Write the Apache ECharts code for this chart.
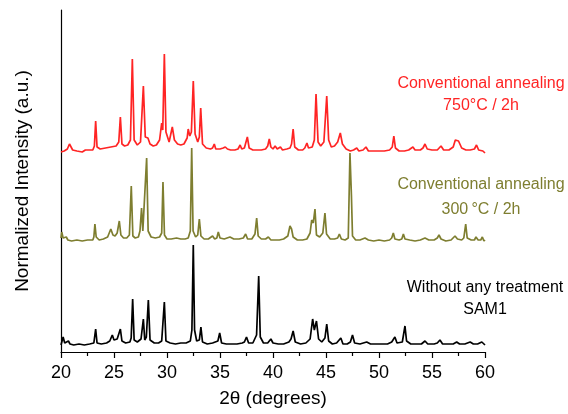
<!DOCTYPE html>
<html>
<head>
<meta charset="utf-8">
<script src="https://cdn.jsdelivr.net/npm/echarts@6/dist/echarts.min.js"></script>
<style>
  html, body { margin: 0; padding: 0; background: #fff; }
  #chart { width: 568px; height: 414px; }
</style>
</head>
<body>
<div id="chart"></div>
<script>
// XRD patterns, 2θ in degrees vs. intensity above each trace's own baseline
const xTicks = [20, 25, 30, 35, 40, 45, 50, 55, 60];

const seriesNames = ['SAM1', '300 °C / 2h', '750 °C / 2h'];
const seriesColors = ['#000000', '#7e7e30', '#ff2424'];
// vertical stacking offsets of the three traces
const offsets = [0.07, 1.11, 2.00];

const untreated = [
  [20.0,0.00],[20.2,0.08],[20.35,0.02],[20.5,0.01],[20.7,0.04],[20.85,0.01],[21.2,0.00],[21.7,0.01],[22.2,0.00],[22.7,0.01],
  [23.1,0.02],[23.27,0.16],[23.4,0.02],[23.8,0.01],[24.3,0.02],[24.6,0.04],[24.84,0.10],[25.0,0.05],[25.3,0.06],[25.6,0.16],
  [25.75,0.04],[26.1,0.02],[26.5,0.03],[26.62,0.07],[26.76,0.46],[26.9,0.05],[27.2,0.03],[27.55,0.06],[27.77,0.26],[27.9,0.05],
  [28.05,0.08],[28.24,0.45],[28.4,0.05],[28.8,0.02],[29.2,0.02],[29.5,0.04],[29.75,0.43],[29.9,0.04],[30.3,0.02],[30.8,0.01],
  [31.3,0.02],[31.8,0.02],[32.2,0.04],[32.35,0.15],[32.48,1.00],[32.6,0.15],[32.8,0.04],[33.05,0.05],[33.2,0.18],[33.35,0.03],
  [33.8,0.01],[34.3,0.02],[34.8,0.04],[34.97,0.12],[35.15,0.02],[35.6,0.01],[36.1,0.01],[36.6,0.01],[37.1,0.02],[37.3,0.03],
  [37.5,0.08],[37.7,0.02],[38.1,0.02],[38.45,0.10],[38.65,0.69],[38.8,0.08],[39.1,0.02],[39.5,0.02],[39.8,0.06],[40.0,0.02],
  [40.5,0.01],[41.0,0.01],[41.5,0.03],[41.7,0.06],[41.9,0.14],[42.1,0.03],[42.6,0.01],[43.1,0.02],[43.5,0.06],[43.74,0.26],
  [43.9,0.15],[44.1,0.24],[44.3,0.06],[44.6,0.03],[44.9,0.07],[45.07,0.21],[45.25,0.04],[45.6,0.01],[46.0,0.02],[46.4,0.07],
  [46.6,0.01],[47.0,0.01],[47.3,0.03],[47.5,0.10],[47.7,0.02],[48.2,0.01],[48.84,0.03],[49.2,0.01],[49.8,0.01],[50.3,0.01],
  [50.8,0.01],[51.2,0.03],[51.5,0.08],[51.7,0.02],[52.2,0.03],[52.45,0.19],[52.6,0.04],[53.0,0.01],[53.5,0.01],[54.0,0.01],
  [54.34,0.04],[54.6,0.01],[55.2,0.01],[55.5,0.02],[55.75,0.05],[56.0,0.01],[56.6,0.01],[57.0,0.01],[57.33,0.03],[57.6,0.01],
  [58.1,0.01],[58.6,0.03],[58.9,0.01],[59.3,0.01],[59.7,0.03],[60.0,0.00]
];

const annealed300 = [
  [20.0,0.03],[20.07,0.09],[20.2,0.03],[20.35,0.01],[20.5,0.04],[20.65,0.01],[21.0,0.00],[21.5,0.01],[22.0,0.00],[22.5,0.01],
  [23.0,0.01],[23.1,0.04],[23.2,0.17],[23.32,0.04],[23.6,0.01],[24.0,0.02],[24.4,0.04],[24.7,0.12],[24.9,0.06],[25.1,0.05],
  [25.3,0.08],[25.5,0.20],[25.65,0.06],[25.9,0.03],[26.2,0.03],[26.45,0.06],[26.63,0.55],[26.78,0.05],[27.0,0.03],[27.3,0.04],
  [27.45,0.10],[27.6,0.33],[27.72,0.10],[27.9,0.12],[28.08,0.83],[28.22,0.10],[28.5,0.04],[28.9,0.03],[29.3,0.04],[29.5,0.08],
  [29.62,0.59],[29.76,0.06],[30.0,0.02],[30.4,0.02],[30.9,0.03],[31.3,0.02],[31.7,0.02],[32.0,0.03],[32.2,0.10],[32.33,0.93],
  [32.46,0.10],[32.7,0.04],[32.9,0.06],[33.05,0.22],[33.2,0.05],[33.5,0.02],[33.9,0.02],[34.3,0.05],[34.5,0.02],[34.7,0.03],
  [34.84,0.09],[35.0,0.03],[35.4,0.02],[35.94,0.04],[36.3,0.02],[36.8,0.02],[37.2,0.03],[37.42,0.07],[37.6,0.02],[38.0,0.02],
  [38.3,0.07],[38.46,0.23],[38.6,0.05],[38.9,0.02],[39.3,0.02],[39.56,0.04],[39.8,0.01],[40.2,0.01],[40.6,0.01],[41.0,0.02],
  [41.4,0.05],[41.6,0.15],[41.75,0.12],[41.9,0.04],[42.3,0.01],[42.8,0.01],[43.2,0.02],[43.5,0.08],[43.65,0.21],[43.8,0.18],
  [43.96,0.32],[44.1,0.06],[44.4,0.04],[44.7,0.08],[44.9,0.28],[45.05,0.07],[45.4,0.02],[45.8,0.02],[46.1,0.03],[46.26,0.07],
  [46.45,0.02],[46.8,0.01],[47.1,0.03],[47.26,0.88],[47.4,0.45],[47.5,0.05],[47.8,0.01],[48.2,0.01],[48.68,0.03],[49.0,0.01],
  [49.5,0.00],[50.0,0.01],[50.5,0.00],[51.0,0.01],[51.2,0.03],[51.35,0.08],[51.5,0.02],[51.9,0.01],[52.15,0.02],[52.3,0.07],
  [52.45,0.02],[52.9,0.01],[53.4,0.00],[53.9,0.01],[54.34,0.03],[54.7,0.01],[55.2,0.01],[55.5,0.03],[55.66,0.06],[55.85,0.02],
  [56.3,0.00],[56.8,0.01],[57.17,0.05],[57.4,0.02],[57.8,0.01],[58.0,0.03],[58.18,0.17],[58.32,0.03],[58.7,0.01],[59.0,0.01],
  [59.15,0.04],[59.35,0.01],[59.6,0.01],[59.75,0.04],[59.9,0.00],[60.0,0.01]
];

const annealed750 = [
  [20.0,0.00],[20.3,0.01],[20.6,0.03],[20.8,0.08],[20.95,0.06],[21.1,0.02],[21.5,0.01],[22.0,0.00],[22.3,0.02],[22.45,0.04],
  [22.6,0.02],[23.0,0.02],[23.15,0.06],[23.27,0.31],[23.4,0.05],[23.7,0.03],[24.2,0.04],[24.7,0.05],[25.2,0.06],[25.45,0.10],
  [25.6,0.35],[25.75,0.08],[26.0,0.06],[26.3,0.07],[26.55,0.12],[26.73,0.93],[26.9,0.12],[27.2,0.07],[27.5,0.10],[27.77,0.66],
  [27.95,0.15],[28.2,0.14],[28.4,0.08],[28.7,0.06],[29.0,0.07],[29.3,0.12],[29.5,0.29],[29.6,0.22],[29.75,0.98],[29.9,0.20],
  [30.2,0.10],[30.5,0.25],[30.7,0.12],[31.0,0.08],[31.3,0.07],[31.6,0.08],[31.9,0.14],[32.0,0.23],[32.15,0.16],[32.3,0.20],
  [32.48,0.71],[32.65,0.18],[32.9,0.10],[33.05,0.15],[33.18,0.44],[33.35,0.08],[33.7,0.04],[34.1,0.03],[34.3,0.04],[34.46,0.08],
  [34.6,0.03],[35.0,0.03],[35.3,0.04],[35.5,0.05],[35.7,0.03],[36.0,0.02],[36.4,0.02],[36.7,0.03],[36.9,0.07],[37.05,0.03],
  [37.3,0.04],[37.58,0.15],[37.75,0.04],[38.1,0.02],[38.5,0.02],[38.9,0.02],[39.3,0.03],[39.5,0.06],[39.65,0.13],[39.8,0.05],
  [40.0,0.03],[40.2,0.06],[40.4,0.03],[40.7,0.05],[40.9,0.02],[41.3,0.03],[41.6,0.04],[41.75,0.08],[41.9,0.23],[42.05,0.05],
  [42.4,0.02],[42.8,0.02],[43.0,0.04],[43.2,0.09],[43.35,0.04],[43.7,0.05],[43.9,0.12],[44.06,0.58],[44.25,0.10],[44.5,0.06],
  [44.8,0.10],[45.07,0.56],[45.25,0.12],[45.5,0.05],[45.8,0.06],[46.1,0.10],[46.35,0.19],[46.55,0.08],[46.9,0.03],[47.3,0.01],
  [47.6,0.02],[47.9,0.04],[48.1,0.01],[48.5,0.02],[48.77,0.05],[49.0,0.01],[49.5,0.01],[50.0,0.01],[50.5,0.01],[51.0,0.02],
  [51.25,0.05],[51.4,0.16],[51.55,0.04],[51.9,0.01],[52.4,0.01],[52.8,0.02],[53.2,0.05],[53.4,0.02],[53.9,0.02],[54.15,0.04],
  [54.34,0.08],[54.55,0.03],[55.0,0.02],[55.5,0.02],[55.85,0.06],[56.1,0.02],[56.6,0.02],[57.0,0.05],[57.2,0.12],[57.33,0.14],
  [57.5,0.11],[57.8,0.04],[58.2,0.02],[58.6,0.02],[59.0,0.03],[59.2,0.07],[59.4,0.02],[59.8,0.01],[60.0,-0.01]
];

const patterns = [untreated, annealed300, annealed750];

// two-line caption beside each trace
const captions = [
  ['Without any treatment', 'SAM1'],
  ['Conventional annealing', '300\u2009°C / 2h'],
  ['Conventional annealing', '750°C / 2h']
];

const FONT = '"Liberation Sans", Arial, sans-serif';

const chart = echarts.init(document.getElementById('chart'), null, { renderer: 'canvas' });

const series = patterns.map((pts, i) => ({
  name: seriesNames[i],
  type: 'line',
  showSymbol: false,
  animation: false,
  lineStyle: { color: seriesColors[i], width: 1.7 },
  itemStyle: { color: seriesColors[i] },
  data: pts.map(p => [p[0], p[1] + offsets[i]])
}));

// caption anchor points (centre x, first/second line centre y)
const captionPos = [
  { x: 485, y1: 288, y2: 310 },
  { x: 481, y1: 185, y2: 210 },
  { x: 481, y1: 84, y2: 106 }
];

const graphics = [];
captions.forEach((lines, i) => {
  lines.forEach((t, j) => {
    graphics.push({
      type: 'text',
      x: captionPos[i].x,
      y: j === 0 ? captionPos[i].y1 : captionPos[i].y2,
      style: {
        text: t,
        fill: seriesColors[i],
        font: '16px ' + FONT,
        align: 'center',
        verticalAlign: 'middle'
      }
    });
  });
});

chart.setOption({
  backgroundColor: '#ffffff',
  animation: false,
  grid: { left: 61, right: 83, top: 10, bottom: 62 },
  xAxis: {
    type: 'value',
    min: xTicks[0],
    max: xTicks[xTicks.length - 1],
    interval: 5,
    name: '2θ (degrees)',
    nameLocation: 'middle',
    nameGap: 37,
    nameTextStyle: { fontFamily: FONT, fontSize: 19, color: '#000' },
    axisLine: { show: true, onZero: false, lineStyle: { color: '#000', width: 1.2 } },
    axisTick: { show: true, length: 6, lineStyle: { color: '#000', width: 1.2 } },
    minorTick: { show: true, splitNumber: 2, length: 4, lineStyle: { color: '#000', width: 1.2 } },
    axisLabel: { fontFamily: FONT, fontSize: 18, color: '#000', margin: 12 },
    splitLine: { show: false }
  },
  yAxis: {
    type: 'value',
    min: 0,
    max: 3.42,
    name: 'Normalized Intensity (a.u.)',
    nameLocation: 'middle',
    nameGap: 29,
    nameTextStyle: { fontFamily: FONT, fontSize: 19, color: '#000' },
    axisLine: { show: true, lineStyle: { color: '#000', width: 1.2 } },
    axisTick: { show: false },
    axisLabel: { show: false },
    splitLine: { show: false }
  },
  series: series,
  graphic: graphics
});
</script>
</body>
</html>
